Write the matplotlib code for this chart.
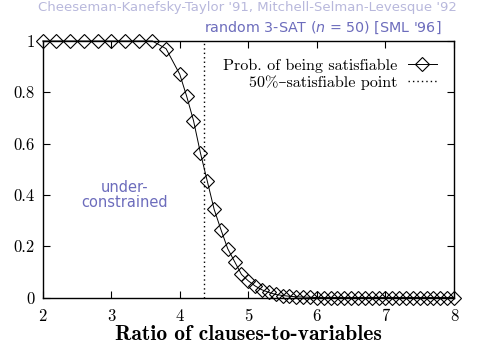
import matplotlib
matplotlib.use("Agg")
import matplotlib.pyplot as plt

# data
ratio = [2.0, 2.2, 2.4, 2.6, 2.8, 3.0, 3.2, 3.4, 3.6, 3.8, 4.0, 4.1, 4.2, 4.3, 4.4,
         4.5, 4.6, 4.7, 4.8, 4.9, 5.0, 5.1, 5.2, 5.3, 5.4, 5.5, 5.6, 5.7, 5.8, 5.9,
         6.0, 6.1, 6.2, 6.3, 6.4, 6.5, 6.6, 6.7, 6.8, 6.9, 7.0, 7.1, 7.2, 7.3, 7.4,
         7.5, 7.6, 7.7, 7.8, 7.9, 8.0]
prob_sat = [1.0, 1.0, 1.0, 1.0, 1.0, 1.0, 1.0, 1.0, 1.0, 0.97, 0.87, 0.785, 0.69, 0.565, 0.455,
            0.345, 0.265, 0.19, 0.14, 0.09, 0.065, 0.045, 0.03, 0.02, 0.012, 0.008, 0.005, 0.003, 0.002, 0.001,
            0.0, 0.0, 0.0, 0.0, 0.0, 0.0, 0.0, 0.0, 0.0, 0.0, 0.0, 0.0, 0.0, 0.0, 0.0,
            0.0, 0.0, 0.0, 0.0, 0.0, 0.0]
half_point = 4.35
yticks = [0, 0.2, 0.4, 0.6, 0.8, 1]
ytick_labels = ["0", "0.2", "0.4", "0.6", "0.8", "1"]
xticks = [2, 3, 4, 5, 6, 7, 8]

plt.rcParams['mathtext.fontset'] = 'dejavusans'
plt.rcParams['axes.formatter.use_mathtext'] = True
blue = '#6c6cbc'
serif = ['cmr10', 'DejaVu Serif']

fig = plt.figure(figsize=(4.94, 3.46), dpi=100)
ax = fig.add_axes([0.0864, 0.140, 0.8326, 0.7415])

ax.plot(ratio, prob_sat, color='black', lw=0.7, marker='D', ms=7.3,
        mfc='none', mec='black', mew=0.8, clip_on=False,
        label='Prob. of being satisfiable')
ax.axvline(half_point, color='black', lw=1.0, ls=(0, (1, 2.2)),
           label='50%\u2013satisfiable point')

ax.set_xlim(2, 8)
ax.set_ylim(0, 1)
ax.set_xticks(xticks)
ax.set_xticklabels([str(t) for t in xticks], family=serif, fontsize=12)
ax.set_yticks(yticks)
ax.set_yticklabels(ytick_labels, family=serif, fontsize=12)
ax.tick_params(direction='in', top=True, right=True, length=5, width=0.8)
ax.tick_params(axis='x', pad=8)
ax.tick_params(axis='y', pad=6)
for s in ax.spines.values():
    s.set_linewidth(1.0)

ax.set_xlabel('Ratio of clauses-to-variables', family=['cmb10', 'DejaVu Serif'],
              fontsize=15.5, labelpad=1)

leg = ax.legend(loc='upper right', bbox_to_anchor=(0.985, 0.975), frameon=False,
                markerfirst=False, handlelength=1.8, handletextpad=0.6,
                labelspacing=0.15, borderpad=0.2, prop={'family': serif, 'size': 11.6})

ax.text(0.97, 1.02, r"random 3-SAT ($n$ = 50) [SML '96]", transform=ax.transAxes,
        ha='right', va='bottom', color=blue, fontsize=10.3, family='DejaVu Sans')
ax.text(3.2, 0.40, 'under-\nconstrained', ha='center', va='center', color=blue,
        fontsize=10.5, family='DejaVu Sans', linespacing=1.0)

fig.text(0.5, 0.998, "Cheeseman-Kanefsky-Taylor '91, Mitchell-Selman-Levesque '92",
         ha='center', va='top', color='#b8b8dc', fontsize=9.5, family='DejaVu Sans')

fig.savefig('out.png', dpi=100)
